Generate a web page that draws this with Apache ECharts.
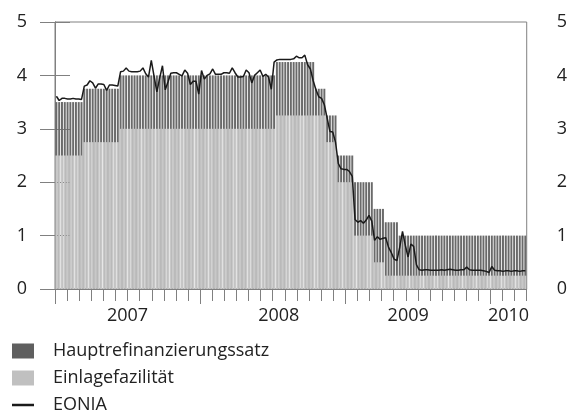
<!DOCTYPE html>
<html><head><meta charset="utf-8">
<script src="https://cdn.jsdelivr.net/npm/echarts@6/dist/echarts.min.js"></script>
<style>html,body{margin:0;padding:0;background:#fff}#c{width:570px;height:412px}</style>
</head><body><div id="c"></div>
<script>
// Weekly observations, first week starting Monday 2007-01-01
const firstWeek = [2007, 0, 1];

// Hauptrefinanzierungssatz (weekly)
const mro = [
  3.5,3.5,3.5,3.5,3.5,3.5,3.5,3.5,3.5,3.5,
  3.75,3.75,3.75,3.75,3.75,3.75,3.75,3.75,3.75,3.75,3.75,3.75,3.75,
  4,4,4,4,4,4,4,4,4,4,4,4,4,4,
  4,4,4,4,4,4,4,4,4,4,4,4,4,4,
  4,4,4,4,4,4,4,4,4,4,4,4,4,4,
  4,4,4,4,4,4,4,4,4,4,4,4,4,4,
  4.25,4.25,4.25,4.25,4.25,4.25,4.25,4.25,4.25,4.25,4.25,4.25,4.25,4.25,
  3.75,3.75,3.75,3.75,
  3.25,3.25,3.25,3.25,
  2.5,2.5,2.5,2.5,2.5,2.5,
  2,2,2,2,2,2,2,
  1.5,1.5,1.5,1.5,
  1.25,1.25,1.25,1.25,1.25,
  1,1,1,1,1,1,1,1,1,1,
  1,1,1,1,1,1,1,1,1,1,
  1,1,1,1,1,1,1,1,1,1,
  1,1,1,1,1,1,1,1,1,1,
  1,1,1,1,1,1
];

// Einlagefazilität (weekly)
const deposit = [
  2.5,2.5,2.5,2.5,2.5,2.5,2.5,2.5,2.5,2.5,
  2.75,2.75,2.75,2.75,2.75,2.75,2.75,2.75,2.75,2.75,2.75,2.75,2.75,
  3,3,3,3,3,3,3,3,3,3,3,3,3,3,
  3,3,3,3,3,3,3,3,3,3,3,3,3,3,
  3,3,3,3,3,3,3,3,3,3,3,3,3,3,
  3,3,3,3,3,3,3,3,3,3,3,3,3,3,
  3.25,3.25,3.25,3.25,3.25,3.25,3.25,3.25,3.25,3.25,3.25,3.25,3.25,3.25,
  3.25,3.25,3.25,3.25,
  2.75,2.75,2.75,2.75,
  2,2,2,2,2,2,
  1,1,1,1,1,1,1,
  0.5,0.5,0.5,0.5,
  0.25,0.25,0.25,0.25,0.25,
  0.25,0.25,0.25,0.25,0.25,0.25,0.25,0.25,0.25,0.25,
  0.25,0.25,0.25,0.25,0.25,0.25,0.25,0.25,0.25,0.25,
  0.25,0.25,0.25,0.25,0.25,0.25,0.25,0.25,0.25,0.25,
  0.25,0.25,0.25,0.25,0.25,0.25,0.25,0.25,0.25,0.25,
  0.25,0.25,0.25,0.25,0.25,0.25
];

// EONIA (weekly)
const eonia = [
  3.61,3.53,3.57,3.57,3.56,3.56,3.57,3.56,3.56,3.55,
  3.80,3.82,3.90,3.86,3.76,3.84,3.84,3.83,3.72,3.82,3.82,3.81,3.80,
  4.07,4.08,4.14,4.08,4.07,4.07,4.07,4.08,4.14,4.03,3.97,4.28,3.98,3.69,
  3.95,4.18,3.73,3.88,4.04,4.05,4.05,4.02,3.99,4.10,4.04,3.83,3.89,3.89,
  3.65,4.09,3.93,4.00,4.03,4.12,4.02,4.02,4.02,4.05,4.05,4.04,4.14,4.05,
  3.97,3.97,3.98,4.10,4.05,3.86,4.00,4.05,4.10,3.98,4.02,3.97,3.74,4.25,
  4.29,4.30,4.30,4.30,4.30,4.30,4.31,4.36,4.33,4.33,4.38,4.20,4.12,3.90,
  3.73,3.60,3.57,3.45,
  3.20,2.95,2.94,2.75,
  2.35,2.25,2.24,2.24,2.20,2.11,
  1.30,1.25,1.28,1.23,1.29,1.38,1.27,
  0.91,0.98,0.93,0.95,
  0.96,0.78,0.68,0.56,0.53,
  0.78,1.08,0.82,0.60,0.84,0.80,0.45,0.36,0.35,0.36,
  0.36,0.35,0.35,0.35,0.35,0.36,0.35,0.36,0.37,0.36,
  0.35,0.35,0.36,0.36,0.41,0.36,0.35,0.35,0.35,0.35,
  0.34,0.33,0.31,0.42,0.35,0.34,0.34,0.33,0.34,0.34,
  0.33,0.34,0.34,0.33,0.34,0.34
];

const yearLabels = ['2007', '2008', '2009', '2010'];
const yearLabelPos = [6, 18.5, 29.2, 37.5];   // in months since Jan 2007
const yearTickPos = [0, 12, 24, 36];
const monthSpan = 39;                          // Jan 2007 .. end of Mar 2010

const weeks = mro.map(function (_, i) {
  const d = new Date(Date.UTC(firstWeek[0], firstWeek[1], firstWeek[2] + 7 * i));
  return d.toISOString().slice(0, 10);
});

const axisColor = '#808080';
const textColor = '#222222';
const font = 'Open Sans';

const chart = echarts.init(document.getElementById('c'), null, {renderer: 'canvas'});
chart.setOption({
  animation: false,
  backgroundColor: '#ffffff',
  grid: {left: 55, right: 43, top: 22, bottom: 123, show: true, borderColor: axisColor, borderWidth: 1, backgroundColor: 'transparent', containLabel: false},
  legend: {
    orient: 'vertical', left: 12, top: 341, width: 400, height: 120, padding: 0,
    itemWidth: 22, itemHeight: 15, itemGap: 7, selectedMode: false, symbolKeepAspect: true,
    textStyle: {fontSize: 18, color: textColor, fontFamily: font, lineHeight: 20, padding: [0, 0, 0, 14]},
    data: [
      {name: 'Hauptrefinanzierungssatz', icon: 'rect', itemStyle: {color: '#5f5f5f'}},
      {name: 'Einlagefazilität', icon: 'rect', itemStyle: {color: '#c0c0c0'}},
      {name: 'EONIA', icon: 'path://M0,0H22V2.5H0Z', itemStyle: {color: '#1a1a1a'}}
    ]
  },
  xAxis: [
    {type: 'category', data: weeks, position: 'bottom', show: false, boundaryGap: true},
    {type: 'value', min: 0, max: monthSpan, interval: 1, position: 'bottom',
      axisLine: {show: true, onZero: false, lineStyle: {color: axisColor, width: 1}},
      axisTick: {show: true, length: 12, lineStyle: {color: axisColor}},
      axisLabel: {show: false}, splitLine: {show: false}},
    {type: 'value', min: 0, max: monthSpan, position: 'bottom',
      axisLine: {show: false, onZero: false},
      axisTick: {show: true, length: 15, customValues: yearTickPos, lineStyle: {color: axisColor}},
      axisLabel: {show: true, customValues: yearLabelPos, margin: 18, fontSize: 18, color: textColor, fontFamily: font,
        formatter: function (v) { const k = yearLabelPos.indexOf(v); return k >= 0 ? yearLabels[k] : ''; }},
      splitLine: {show: false}}
  ],
  yAxis: [
    {type: 'value', min: 0, max: 5, interval: 1, position: 'left',
      axisLine: {show: true, lineStyle: {color: axisColor}},
      axisTick: {show: true, length: 15, lineStyle: {color: axisColor}},
      axisLabel: {fontSize: 18, color: textColor, fontFamily: font, margin: 28},
      splitLine: {show: false}},
    {type: 'value', min: 0, max: 5, interval: 1, position: 'right',
      axisLine: {show: true, lineStyle: {color: axisColor}},
      axisTick: {show: true, length: 15, lineStyle: {color: axisColor}},
      axisLabel: {fontSize: 18, color: textColor, fontFamily: font, margin: 30},
      splitLine: {show: false}}
  ],
  series: [
    {name: 'Hauptrefinanzierungssatz', type: 'bar', xAxisIndex: 0, yAxisIndex: 0, data: mro,
      barCategoryGap: '30%', itemStyle: {color: '#6a6a6a'}, z: 2},
    {name: 'Einlagefazilität', type: 'bar', xAxisIndex: 0, yAxisIndex: 0, data: deposit,
      barGap: '-100%', barCategoryGap: '30%', itemStyle: {color: '#c8c8c8'}, z: 3},
    {name: 'EONIA', type: 'line', xAxisIndex: 0, yAxisIndex: 0, data: eonia, symbol: 'none', showSymbol: false,
      lineStyle: {color: '#1a1a1a', width: 1.5}, itemStyle: {color: '#1a1a1a'}, z: 5}
  ]
});
</script></body></html>
